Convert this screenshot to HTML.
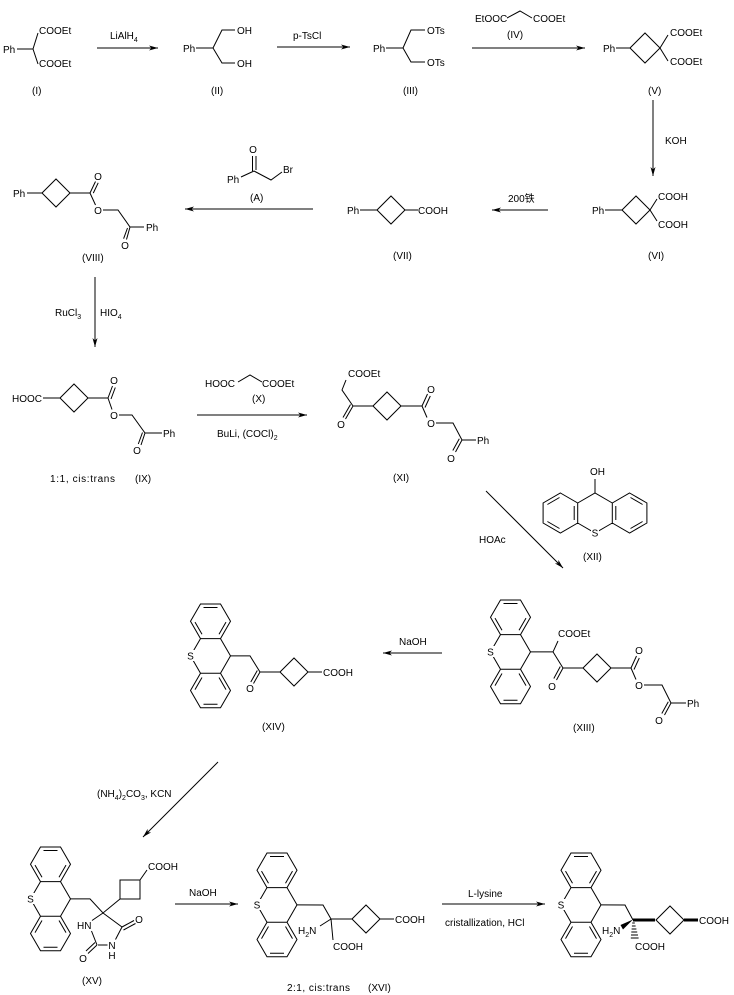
<!DOCTYPE html>
<html><head><meta charset="utf-8">
<style>
html,body{margin:0;padding:0;background:#fff}
svg{display:block}
text{font-family:"Liberation Sans","Noto Sans CJK SC",sans-serif;font-size:10px;fill:#000}
</style></head>
<body>
<svg width="734" height="995" viewBox="0 0 734 995" xmlns="http://www.w3.org/2000/svg">
<defs>
<marker id="a" markerWidth="10" markerHeight="6" refX="9" refY="3" orient="auto" markerUnits="userSpaceOnUse"><path d="M0,0.5 L9,3 L0,5.5 L2.5,3 z" fill="#000"/></marker>
</defs>
<rect width="734" height="995" fill="#fff"/>

<!-- arrows -->
<g stroke="#000" stroke-width="1" fill="none" marker-end="url(#a)">
<line x1="97" y1="48" x2="158" y2="48"/>
<line x1="277" y1="47" x2="350" y2="47"/>
<line x1="472" y1="48" x2="585" y2="48"/>
<line x1="653" y1="100" x2="653" y2="176"/>
<line x1="548" y1="210" x2="492" y2="210"/>
<line x1="313" y1="209" x2="185" y2="209"/>
<line x1="95" y1="277" x2="95" y2="347"/>
<line x1="197" y1="415" x2="307" y2="415"/>
<line x1="486" y1="491" x2="563" y2="568"/>
<line x1="442" y1="653" x2="383" y2="653"/>
<line x1="218" y1="762" x2="143" y2="837"/>
<line x1="175" y1="904" x2="238" y2="904"/>
<line x1="442" y1="904" x2="545" y2="904"/>
</g>

<!-- bonds -->
<g stroke="#000" stroke-width="1" fill="none">
<path d="M17,49 L33,49 M33,49 L38,33 M33,49 L38,64"/>
<path d="M196,48 L213,48 M213,48 L222,30 L235,30 M213,48 L222,63 L235,63"/>
<path d="M386,48 L403,48 M403,48 L411,30 L425,30 M403,48 L411,62 L425,62"/>
<path d="M507,18 L520,11 L532,18"/>
<path d="M616,48 L630,48 M630,48 L645,33 L660,48 L645,63 Z M660,48 L668,35 M660,48 L668,61"/>
<path d="M605,210 L622,210 M622,210 L636,196 L650,210 L636,224 Z M650,210 L657,199 M650,210 L657,221"/>
<path d="M360,210 L377,210 M377,210 L391,196 L405,210 L391,224 Z M405,210 L418,210"/>
<path d="M252.5,156 L252.5,171 M256,156 L256,170 M254,171 L241,177 M254,171 L271,180 L282,172"/>
<path d="M27,193 L42,193 M42,193 L56,179 L70,193 L56,207 Z M70,193 L90,193 M90,193 L95.5,181.5 M93.3,193.1 L98.2,182.8 M90,193 L95.5,205 M103,210 L118,210 L130,227 L144,227 M130,227 L126.5,239.5 M127.5,228 L123.6,238.7"/>
<path d="M43,398 L60,398 M60,398 L74,384 L88,398 L74,412 Z M88,398 L108,398 M108,398 L112.5,386 M111,399 L115.3,387.5 M108,398 L112,409.5 M119,415 L132,415 L145,433 L162,433 M145,433 L141,445 M142.5,432.5 L138.3,444"/>
<path d="M238,382 L250,375 L262,382"/>
<path d="M346,380 L342,390 L353,406 M353,406 L345.5,419 M350.5,404.5 L343,417.5 M353,406 L373,406 M373,406 L387,392 L401,406 L387,420 Z M401,406 L422,406 M422,406 L427.5,394 M425,407.5 L430.3,396 M422,406 L427,417.5 M436,423 L453,423 L462,440 L476,440 M462,440 L455.5,452 M459.3,438.8 L452.8,450.5"/>
<path d="M595,479 L595,493 M560.4,493 L577.7,503 L577.7,523 L560.4,533 L543.1,523 L543.1,503 Z M629.6,493 L646.9,503 L646.9,523 L629.6,533 L612.3,523 L612.3,503 Z M577.7,503 L595,493 L612.3,503 M577.7,523 L595,533 L612.3,523 M574.2,506 L574.2,520 M559.5,528.5 L547.4,521.5 M547.4,504.5 L559.5,497.5 M615.8,506 L615.8,520 M642.6,504.5 L630.5,497.5 M642.6,521.5 L630.5,528.5"/>

<g transform="translate(510.5,617.3)"><path d="M-10,-17.3 L10,-17.3 L20,0 L10,17.3 L-10,17.3 L-20,0 Z M-10,51.9 L10,51.9 L20,69.2 L10,86.5 L-10,86.5 L-20,69.2 Z M-10,17.3 L-20,34.6 L-10,51.9 M10,17.3 L20,34.6 L10,51.9 M-7,-13.8 L7,-13.8 M15.5,0.85 L8.5,12.95 M-8.5,12.95 L-15.5,0.85 M-7,83 L7,83 M8.5,56.25 L15.5,68.35 M-15.5,68.35 L-8.5,56.25"/></g>
<g transform="translate(210.5,621.3)"><path d="M-10,-17.3 L10,-17.3 L20,0 L10,17.3 L-10,17.3 L-20,0 Z M-10,51.9 L10,51.9 L20,69.2 L10,86.5 L-10,86.5 L-20,69.2 Z M-10,17.3 L-20,34.6 L-10,51.9 M10,17.3 L20,34.6 L10,51.9 M-7,-13.8 L7,-13.8 M15.5,0.85 L8.5,12.95 M-8.5,12.95 L-15.5,0.85 M-7,83 L7,83 M8.5,56.25 L15.5,68.35 M-15.5,68.35 L-8.5,56.25"/></g>
<g transform="translate(50.5,864.3)"><path d="M-10,-17.3 L10,-17.3 L20,0 L10,17.3 L-10,17.3 L-20,0 Z M-10,51.9 L10,51.9 L20,69.2 L10,86.5 L-10,86.5 L-20,69.2 Z M-10,17.3 L-20,34.6 L-10,51.9 M10,17.3 L20,34.6 L10,51.9 M-7,-13.8 L7,-13.8 M15.5,0.85 L8.5,12.95 M-8.5,12.95 L-15.5,0.85 M-7,83 L7,83 M8.5,56.25 L15.5,68.35 M-15.5,68.35 L-8.5,56.25"/></g>
<g transform="translate(277,870.3)"><path d="M-10,-17.3 L10,-17.3 L20,0 L10,17.3 L-10,17.3 L-20,0 Z M-10,51.9 L10,51.9 L20,69.2 L10,86.5 L-10,86.5 L-20,69.2 Z M-10,17.3 L-20,34.6 L-10,51.9 M10,17.3 L20,34.6 L10,51.9 M-7,-13.8 L7,-13.8 M15.5,0.85 L8.5,12.95 M-8.5,12.95 L-15.5,0.85 M-7,83 L7,83 M8.5,56.25 L15.5,68.35 M-15.5,68.35 L-8.5,56.25"/></g>
<g transform="translate(581,870.3)"><path d="M-10,-17.3 L10,-17.3 L20,0 L10,17.3 L-10,17.3 L-20,0 Z M-10,51.9 L10,51.9 L20,69.2 L10,86.5 L-10,86.5 L-20,69.2 Z M-10,17.3 L-20,34.6 L-10,51.9 M10,17.3 L20,34.6 L10,51.9 M-7,-13.8 L7,-13.8 M15.5,0.85 L8.5,12.95 M-8.5,12.95 L-15.5,0.85 M-7,83 L7,83 M8.5,56.25 L15.5,68.35 M-15.5,68.35 L-8.5,56.25"/></g>

<path d="M530.5,651.9 L553,651.9 L558,641 M553,651.9 L563,668 M563,668 L556.5,680 M560.3,666.5 L553.8,678.5 M563,668 L583,668 M583,668 L597,654 L611,668 L597,682 Z M611,668 L631,668 M631,668 L636.5,656 M634,669.5 L639.3,658 M631,668 L636,679.5 M644,685 L662,685 L671,703 L686,703 M671,703 L664.5,715 M668.3,701.8 L661.8,713.5"/>
<path d="M230.5,655.9 L250,655.9 L260,672 M260,672 L253.5,683.5 M257.3,670.5 L250.8,682 M260,672 L280,672 M280,672 L294,658 L308,672 L294,686 Z M308,672 L322,672"/>
<path d="M70.5,898.9 L90,898.9 L103,913 L120,899 M120,880 L140,880 L140,899 L120,899 Z M140,880 L147,870 M103,913 L122,927 M122,927 L134,920.5 M123.5,930 L135.5,923.5 M122,927 L115.5,939.5 M98,945 L107.5,945 M97,945 L88,953.5 M95,942.5 L86,951 M97,945 L91.5,931 M92,920.5 L103,913"/>
<path d="M297,904.9 L323,905 L331,919 M331,919 L320,926 M331,919 L333,940 M331,919 L352,919 M352,919 L366,905 L380,919 L366,933 Z M380,919 L394,919"/>
<path d="M601,904.9 L625,905 L633,920 M656,920 L670,906 L684,920 L670,934 Z"/>
<path d="M633,920 L655,920 M684,920 L698,920" stroke-width="3"/>
<path d="M632.2,923 L634.8,923 M631.9,926 L635.6,926 M631.6,929 L636.4,929 M631.3,932 L637.2,932 M631,935 L638,935 M630.8,938 L638.6,938"/>
</g>
<polygon points="633,919.5 620.5,925 623,929.5" fill="#000"/>

<g fill="#fff">
<rect x="591" y="527" width="8" height="11"/>
<rect x="486.5" y="646" width="8" height="11"/>
<rect x="186.5" y="650" width="8" height="11"/>
<rect x="26.5" y="893" width="8" height="11"/>
<rect x="253" y="899" width="8" height="11"/>
<rect x="557" y="899" width="8" height="11"/>
</g>

<g>
<text x="3" y="53">Ph</text>
<text x="39" y="34">COOEt</text>
<text x="39" y="67">COOEt</text>
<text x="32" y="94">(I)</text>
<text x="110" y="39">LiAlH<tspan font-size="7" dy="3">4</tspan></text>
<text x="183" y="52">Ph</text>
<text x="237" y="34">OH</text>
<text x="237" y="67">OH</text>
<text x="211" y="94">(II)</text>
<text x="293" y="39">p-TsCl</text>
<text x="373" y="52">Ph</text>
<text x="427" y="34">OTs</text>
<text x="427" y="66">OTs</text>
<text x="403" y="94">(III)</text>
<text x="475" y="22">EtOOC</text>
<text x="533" y="22">COOEt</text>
<text x="507" y="38">(IV)</text>
<text x="603" y="52">Ph</text>
<text x="670" y="36">COOEt</text>
<text x="670" y="65">COOEt</text>
<text x="648" y="94">(V)</text>
<text x="665" y="144">KOH</text>
<text x="592" y="214">Ph</text>
<text x="658" y="200">COOH</text>
<text x="658" y="228">COOH</text>
<text x="648" y="259">(VI)</text>
<text x="508" y="202">200铁</text>
<text x="347" y="214">Ph</text>
<text x="418" y="214">COOH</text>
<text x="393" y="259">(VII)</text>
<text x="253" y="153" text-anchor="middle">O</text>
<text x="227" y="183">Ph</text>
<text x="283" y="173">Br</text>
<text x="250" y="201">(A)</text>
<text x="13" y="197">Ph</text>
<text x="98" y="180" text-anchor="middle">O</text>
<text x="98" y="214" text-anchor="middle">O</text>
<text x="146" y="231">Ph</text>
<text x="125" y="249" text-anchor="middle">O</text>
<text x="82" y="261">(VIII)</text>
<text x="55" y="316">RuCl<tspan font-size="7" dy="3">3</tspan></text>
<text x="100" y="316">HIO<tspan font-size="7" dy="3">4</tspan></text>
<text x="12" y="402">HOOC</text>
<text x="114" y="384" text-anchor="middle">O</text>
<text x="114" y="419" text-anchor="middle">O</text>
<text x="163" y="437">Ph</text>
<text x="137" y="454" text-anchor="middle">O</text>
<text x="50" y="482" textLength="65" lengthAdjust="spacing">1:1, cis:trans</text>
<text x="135" y="482">(IX)</text>
<text x="205" y="387">HOOC</text>
<text x="262" y="387">COOEt</text>
<text x="252" y="402">(X)</text>
<text x="217" y="437">BuLi, (COCl)<tspan font-size="7" dy="3">2</tspan></text>
<text x="348" y="377">COOEt</text>
<text x="341" y="428" text-anchor="middle">O</text>
<text x="431" y="393" text-anchor="middle">O</text>
<text x="431" y="427" text-anchor="middle">O</text>
<text x="477" y="444">Ph</text>
<text x="451" y="462" text-anchor="middle">O</text>
<text x="393" y="481">(XI)</text>
<text x="479" y="543">HOAc</text>
<text x="590" y="475">OH</text>
<text x="595" y="536.5" text-anchor="middle">S</text>
<text x="583" y="560">(XII)</text>
<text x="490.5" y="655.5" text-anchor="middle">S</text>
<text x="558" y="637">COOEt</text>
<text x="552" y="690" text-anchor="middle">O</text>
<text x="639" y="654" text-anchor="middle">O</text>
<text x="639" y="689" text-anchor="middle">O</text>
<text x="687" y="707">Ph</text>
<text x="659" y="724" text-anchor="middle">O</text>
<text x="573" y="731">(XIII)</text>
<text x="399" y="645">NaOH</text>
<text x="190.5" y="659.5" text-anchor="middle">S</text>
<text x="250" y="692" text-anchor="middle">O</text>
<text x="323" y="676">COOH</text>
<text x="262" y="730">(XIV)</text>
<text x="97" y="797">(NH<tspan font-size="7" dy="3">4</tspan><tspan dy="-3">)</tspan><tspan font-size="7" dy="3">2</tspan><tspan dy="-3">CO</tspan><tspan font-size="7" dy="3">3</tspan><tspan dy="-3">, KCN</tspan></text>
<text x="30.5" y="902.5" text-anchor="middle">S</text>
<text x="148" y="870">COOH</text>
<text x="139" y="923" text-anchor="middle">O</text>
<text x="112" y="949" text-anchor="middle">N</text>
<text x="112" y="959" text-anchor="middle">H</text>
<text x="77" y="929">HN</text>
<text x="83" y="962" text-anchor="middle">O</text>
<text x="82" y="984">(XV)</text>
<text x="189" y="896">NaOH</text>
<text x="257" y="908.5" text-anchor="middle">S</text>
<text x="298" y="934">H<tspan font-size="7" dy="3">2</tspan><tspan dy="-3">N</tspan></text>
<text x="333" y="950">COOH</text>
<text x="395" y="923">COOH</text>
<text x="287" y="991" textLength="63" lengthAdjust="spacing">2:1, cis:trans</text>
<text x="368" y="991">(XVI)</text>
<text x="468" y="897">L-lysine</text>
<text x="445" y="926">cristallization, HCl</text>
<text x="561" y="908.5" text-anchor="middle">S</text>
<text x="602" y="934">H<tspan font-size="7" dy="3">2</tspan><tspan dy="-3">N</tspan></text>
<text x="635" y="950">COOH</text>
<text x="699" y="924">COOH</text>
</g>
</svg>
</body></html>
